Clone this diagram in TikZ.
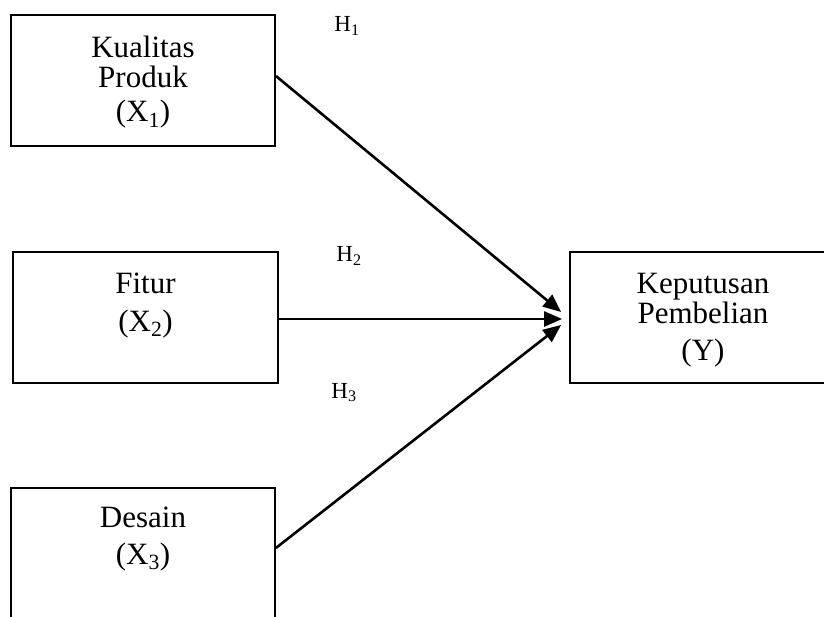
\documentclass[tikz,border=0pt]{standalone}
\usepackage{fontspec}
\setmainfont{Liberation Serif}
\usetikzlibrary{arrows.meta,calc}
\begin{document}
\begin{tikzpicture}[x=1pt,y=-1pt,
  box/.style={draw=black,line width=1.8pt,minimum height=131pt,inner sep=0pt},
  lbl/.style={align=center,anchor=base,inner sep=0pt,font=\fontsize{31}{30}\selectfont},
  hyp/.style={anchor=base,inner sep=0pt,font=\fontsize{23}{26}\selectfont},
  arr/.style={line width=2.6pt,-{Triangle[length=18pt,width=15pt]}}]
\clip (0,0) rectangle (824,617);
\fill[white] (0,0) rectangle (824,617);
% boxes
\node[box,minimum width=264pt] (b1) at (143,80.5) {};
\node[box,minimum width=265pt] (b2) at (145.5,317.5) {};
\node[box,minimum width=264pt] (b3) at (143,553.5) {};
\node[box,minimum width=266pt] (y) at (703,317.5) {};
% texts (anchored at the baseline of the last line)
\node[lbl] (t1) at (143,122) {Kualitas\\Produk\\[4pt](X\textsubscript{1})};
\node[lbl] (t2) at (145.5,331) {Fitur\\[8pt](X\textsubscript{2})};
\node[lbl] (t3) at (143,564) {Desain\\[7pt](X\textsubscript{3})};
\node[lbl] (ty) at (703,360) {Keputusan\\Pembelian\\[7pt](Y)};
% hypotheses
\node[hyp] (h1) at (347,32) {H\textsubscript{1}};
\node[hyp] (h2) at (349,262) {H\textsubscript{2}};
\node[hyp] (h3) at (344,398) {H\textsubscript{3}};
% arrows
\draw[arr] ($(b1.east)+(0,-4.5)$) -- ($(y.west)+(-8,-5.5)$);
\draw[arr] ($(b2.east)+(0,1.5)$) -- ($(y.west)+(-7,1.5)$);
\draw[arr] ($(b3.east)+(0,-5.5)$) -- ($(y.west)+(-8,7.5)$);
\end{tikzpicture}
\end{document}
